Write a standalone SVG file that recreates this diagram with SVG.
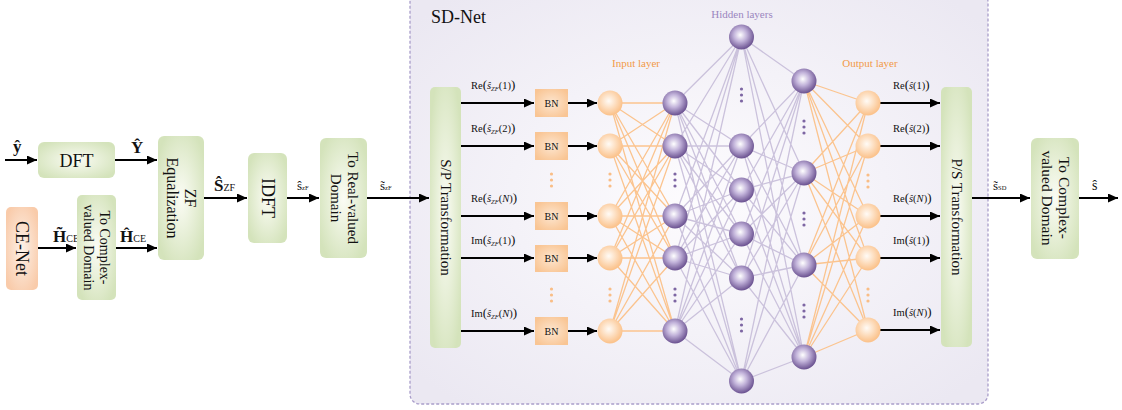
<svg xmlns="http://www.w3.org/2000/svg" width="1122" height="410" viewBox="0 0 1122 410">
<defs>
<radialGradient id="gGreen" cx="50%" cy="50%" r="60%"><stop offset="0" stop-color="#fbfcf5"/><stop offset="1" stop-color="#d4e3bb"/></radialGradient>
<radialGradient id="gPeach" cx="50%" cy="50%" r="60%"><stop offset="0" stop-color="#fdf1e8"/><stop offset="1" stop-color="#f9cbaa"/></radialGradient>
<radialGradient id="gBN" cx="50%" cy="50%" r="60%"><stop offset="0" stop-color="#fde6d0"/><stop offset="1" stop-color="#f9c594"/></radialGradient>
<radialGradient id="gOr" cx="45%" cy="42%" r="55%"><stop offset="0" stop-color="#fffbf6"/><stop offset="1" stop-color="#fbc38d"/></radialGradient>
<radialGradient id="gPu" cx="45%" cy="42%" r="58%"><stop offset="0" stop-color="#ffffff"/><stop offset="0.45" stop-color="#c2b3da"/><stop offset="1" stop-color="#6a5190"/></radialGradient>
<radialGradient id="gBg" cx="50%" cy="50%" r="65%"><stop offset="0" stop-color="#fdfcfe"/><stop offset="1" stop-color="#ebe8f2"/></radialGradient>
<marker id="ah" markerWidth="10" markerHeight="9" refX="10" refY="4.5" orient="auto" markerUnits="userSpaceOnUse"><path d="M0,0 L10,4.5 L0,9 z" fill="#000"/></marker>
</defs>
<style>
text{font-family:"Liberation Serif","Times New Roman",serif;fill:#111}
.box{fill:url(#gGreen);stroke:none}
.arr{stroke:#000;stroke-width:2;fill:none;marker-end:url(#ah)}
.big{font-size:18px}
.mid{font-size:15px}
.bold{font-weight:bold;font-size:17px}
.ml{font-size:10.5px}
.bp{font-size:13px}
.it{font-style:italic}
.sub{font-size:6.5px;font-style:italic}
.orl{stroke:#fbc48f;stroke-width:1.3;fill:none}
.pul{stroke:#cbc2dc;stroke-width:1.3;fill:none}
.on{fill:url(#gOr)}
.pn{fill:url(#gPu)}
.od{fill:#f9bd86}
.pd{fill:#7d66a3}
.bn{fill:url(#gBN)}
</style>
<rect width="1122" height="410" fill="#fff"/>

<g id="sdnet-frame">
<rect x="410" y="-8" width="578" height="412" rx="10" fill="url(#gBg)" stroke="#a99dca" stroke-width="1.3" stroke-dasharray="3,2"/>
<text x="431" y="23" font-size="18">SD-Net</text>
<text x="612" y="67" font-size="11" style="fill:#f29a48">Input layer</text>
<text x="742" y="18" font-size="11" text-anchor="middle" style="fill:#9b86bf">Hidden layers</text>
<text x="870" y="67" font-size="11" text-anchor="middle" style="fill:#f29a48">Output layer</text>
</g>

<g id="connectors">
<path class="orl" d="M610 103L675 103M610 103L675 146M610 103L675 216M610 103L675 258M610 103L675 331M610 146L675 103M610 146L675 146M610 146L675 216M610 146L675 258M610 146L675 331M610 216L675 103M610 216L675 146M610 216L675 216M610 216L675 258M610 216L675 331M610 258L675 103M610 258L675 146M610 258L675 216M610 258L675 258M610 258L675 331M610 331L675 103M610 331L675 146M610 331L675 216M610 331L675 258M610 331L675 331"/>
<path class="pul" d="M675 103L741.5 37M675 103L741.5 146M675 103L741.5 190M675 103L741.5 234M675 103L741.5 278M675 103L741.5 381M675 146L741.5 37M675 146L741.5 146M675 146L741.5 190M675 146L741.5 234M675 146L741.5 278M675 146L741.5 381M675 216L741.5 37M675 216L741.5 146M675 216L741.5 190M675 216L741.5 234M675 216L741.5 278M675 216L741.5 381M675 258L741.5 37M675 258L741.5 146M675 258L741.5 190M675 258L741.5 234M675 258L741.5 278M675 258L741.5 381M675 331L741.5 37M675 331L741.5 146M675 331L741.5 190M675 331L741.5 234M675 331L741.5 278M675 331L741.5 381"/>
<path class="pul" d="M741.5 37L804 81M741.5 37L804 173M741.5 37L804 265M741.5 37L804 357M741.5 146L804 81M741.5 146L804 173M741.5 146L804 265M741.5 146L804 357M741.5 190L804 81M741.5 190L804 173M741.5 190L804 265M741.5 190L804 357M741.5 234L804 81M741.5 234L804 173M741.5 234L804 265M741.5 234L804 357M741.5 278L804 81M741.5 278L804 173M741.5 278L804 265M741.5 278L804 357M741.5 381L804 81M741.5 381L804 173M741.5 381L804 265M741.5 381L804 357"/>
<path class="orl" d="M804 81L868 103M804 81L868 146M804 81L868 216M804 81L868 258M804 81L868 330M804 173L868 103M804 173L868 146M804 173L868 216M804 173L868 258M804 173L868 330M804 265L868 103M804 265L868 146M804 265L868 216M804 265L868 258M804 265L868 330M804 357L868 103M804 357L868 146M804 357L868 216M804 357L868 258M804 357L868 330"/>

<path class="arr" d="M5 160H37"/>
<path class="arr" d="M115 160H157"/>
<path class="arr" d="M38 248H76"/>
<path class="arr" d="M116 248H157"/>
<path class="arr" d="M204 198H247"/>
<path class="arr" d="M287 198H319"/>
<path class="arr" d="M367 198H429"/>

<path class="arr" d="M461 103H534"/>
<path class="arr" d="M461 146H534"/>
<path class="arr" d="M461 216H534"/>
<path class="arr" d="M461 258H534"/>
<path class="arr" d="M461 331H534"/>
<path class="arr" d="M568 103H597"/>
<path class="arr" d="M568 146H597"/>
<path class="arr" d="M568 216H597"/>
<path class="arr" d="M568 258H597"/>
<path class="arr" d="M568 331H597"/>

<path class="arr" d="M880 103H940"/>
<path class="arr" d="M880 146H940"/>
<path class="arr" d="M880 216H940"/>
<path class="arr" d="M880 258H940"/>
<path class="arr" d="M880 330H940"/>

<path class="arr" d="M972 198H1030"/>
<path class="arr" d="M1079 198H1118"/>

<text x="13" y="152" class="bold" font-size="18">ŷ</text>
<text x="131" y="153" class="bold">Ŷ</text>
<text x="53" y="242" class="bold">H̃<tspan font-size="10" font-weight="normal">CE</tspan></text>
<text x="120" y="242" class="bold">Ĥ<tspan font-size="10" font-weight="normal">CE</tspan></text>
<text x="214" y="191" class="bold">Ŝ<tspan font-size="10" font-weight="normal">ZF</tspan></text>
<text x="297" y="190" font-size="13">ŝ<tspan font-size="6.5">zF</tspan></text>
<text x="380" y="190" font-size="13">s̃<tspan font-size="6.5">zF</tspan></text>
<text x="993" y="190" font-size="13">s̃<tspan font-size="6.5">SD</tspan></text>
<text x="1092" y="190" font-size="14">ŝ</text>

<text x="471" y="89" class="ml">Re<tspan class="bp">(</tspan><tspan class="it">ŝ</tspan><tspan class="sub" dy="2">ZF</tspan><tspan dy="-2">(1)</tspan><tspan class="bp">)</tspan></text>
<text x="471" y="132" class="ml">Re<tspan class="bp">(</tspan><tspan class="it">ŝ</tspan><tspan class="sub" dy="2">ZF</tspan><tspan dy="-2">(2)</tspan><tspan class="bp">)</tspan></text>
<text x="471" y="202" class="ml">Re<tspan class="bp">(</tspan><tspan class="it">ŝ</tspan><tspan class="sub" dy="2">ZF</tspan><tspan dy="-2">(</tspan><tspan class="it">N</tspan>)<tspan class="bp">)</tspan></text>
<text x="471" y="244" class="ml">Im<tspan class="bp">(</tspan><tspan class="it">ŝ</tspan><tspan class="sub" dy="2">ZF</tspan><tspan dy="-2">(1)</tspan><tspan class="bp">)</tspan></text>
<text x="471" y="317" class="ml">Im<tspan class="bp">(</tspan><tspan class="it">ŝ</tspan><tspan class="sub" dy="2">ZF</tspan><tspan dy="-2">(</tspan><tspan class="it">N</tspan>)<tspan class="bp">)</tspan></text>

<text x="893" y="89" class="ml">Re<tspan class="bp">(</tspan><tspan class="it">ŝ</tspan>(1)<tspan class="bp">)</tspan></text>
<text x="893" y="132" class="ml">Re<tspan class="bp">(</tspan><tspan class="it">ŝ</tspan>(2)<tspan class="bp">)</tspan></text>
<text x="893" y="202" class="ml">Re<tspan class="bp">(</tspan><tspan class="it">ŝ</tspan>(<tspan class="it">N</tspan>)<tspan class="bp">)</tspan></text>
<text x="893" y="244" class="ml">Im<tspan class="bp">(</tspan><tspan class="it">ŝ</tspan>(1)<tspan class="bp">)</tspan></text>
<text x="893" y="316" class="ml">Im<tspan class="bp">(</tspan><tspan class="it">ŝ</tspan>(<tspan class="it">N</tspan>)<tspan class="bp">)</tspan></text>
</g>

<g id="dft"><rect class="box" x="38" y="142" width="77" height="36" rx="6"/><text x="76.5" y="166.5" class="big" text-anchor="middle">DFT</text></g>
<g id="ce-net"><rect x="6" y="207" width="32" height="83" rx="5" fill="url(#gPeach)"/><text transform="rotate(90 22 248.5)" x="22" y="254.5" class="big" text-anchor="middle">CE-Net</text></g>
<g id="to-complex-1"><rect class="box" x="77" y="195" width="39" height="105" rx="5"/><text transform="rotate(90 96.5 247.5)" text-anchor="middle" font-size="14"><tspan x="96.5" y="244">To Complex-</tspan><tspan x="96.5" y="260">valued Domain</tspan></text></g>
<g id="zf-eq"><rect class="box" x="158" y="136" width="46" height="124" rx="6"/><text transform="rotate(90 181 198)" text-anchor="middle" font-size="16"><tspan x="181" y="194.5">ZF</tspan><tspan x="181" y="212.5">Equalization</tspan></text></g>
<g id="idft"><rect class="box" x="248" y="153" width="39" height="90" rx="6"/><text transform="rotate(90 267.5 198)" x="267.5" y="204" class="big" text-anchor="middle">IDFT</text></g>
<g id="to-real"><rect class="box" x="320" y="138" width="47" height="120" rx="6"/><text transform="rotate(90 343.5 198)" text-anchor="middle" class="mid"><tspan x="343.5" y="194">To Real-valued</tspan><tspan x="343.5" y="211">Domain</tspan></text></g>
<g id="sp"><rect class="box" x="430" y="87" width="31" height="261" rx="5"/><text transform="rotate(90 445.5 217.5)" x="445.5" y="222.5" class="mid" text-anchor="middle">S/P Transformation</text></g>
<g id="ps"><rect class="box" x="941" y="87" width="31" height="260" rx="5"/><text transform="rotate(90 956.5 217)" x="956.5" y="222" class="mid" text-anchor="middle">P/S Transformation</text></g>
<g id="to-complex-2"><rect class="box" x="1031" y="138" width="48" height="121" rx="6"/><text transform="rotate(90 1055 198)" text-anchor="middle" font-size="15.5"><tspan x="1055" y="194">To Complex-</tspan><tspan x="1055" y="211">valued Domain</tspan></text></g>

<g id="bn-layer">
<rect class="bn" x="535" y="89" width="33" height="28"/><text x="551.5" y="107" font-size="10" text-anchor="middle">BN</text>
<rect class="bn" x="535" y="132" width="33" height="28"/><text x="551.5" y="150" font-size="10" text-anchor="middle">BN</text>
<rect class="bn" x="535" y="202" width="33" height="28"/><text x="551.5" y="220" font-size="10" text-anchor="middle">BN</text>
<rect class="bn" x="535" y="245" width="33" height="27"/><text x="551.5" y="262" font-size="10" text-anchor="middle">BN</text>
<rect class="bn" x="535" y="317" width="33" height="28"/><text x="551.5" y="335" font-size="10" text-anchor="middle">BN</text>
<circle class="od" cx="551.5" cy="174" r="1.6"/><circle class="od" cx="551.5" cy="180" r="1.6"/><circle class="od" cx="551.5" cy="186" r="1.6"/>
<circle class="od" cx="551.5" cy="289" r="1.6"/><circle class="od" cx="551.5" cy="295" r="1.6"/><circle class="od" cx="551.5" cy="301" r="1.6"/>
</g>

<g id="input-layer">
<circle id="in1" class="on" cx="610" cy="103" r="12.5"/>
<circle id="in2" class="on" cx="610" cy="146" r="12.5"/>
<circle id="in3" class="on" cx="610" cy="216" r="12.5"/>
<circle id="in4" class="on" cx="610" cy="258" r="12.5"/>
<circle id="in5" class="on" cx="610" cy="331" r="12.5"/>
<circle class="od" cx="610" cy="174" r="1.6"/><circle class="od" cx="610" cy="180" r="1.6"/><circle class="od" cx="610" cy="186" r="1.6"/>
<circle class="od" cx="610" cy="289" r="1.6"/><circle class="od" cx="610" cy="295" r="1.6"/><circle class="od" cx="610" cy="301" r="1.6"/>
</g>

<g id="hidden-1">
<circle id="h1a" class="pn" cx="675" cy="103" r="12.5"/>
<circle id="h1b" class="pn" cx="675" cy="146" r="12.5"/>
<circle id="h1c" class="pn" cx="675" cy="216" r="12.5"/>
<circle id="h1d" class="pn" cx="675" cy="258" r="12.5"/>
<circle id="h1e" class="pn" cx="675" cy="331" r="12.5"/>
<circle class="pd" cx="675" cy="174" r="1.6"/><circle class="pd" cx="675" cy="180" r="1.6"/><circle class="pd" cx="675" cy="186" r="1.6"/>
<circle class="pd" cx="675" cy="289" r="1.6"/><circle class="pd" cx="675" cy="295" r="1.6"/><circle class="pd" cx="675" cy="301" r="1.6"/>
</g>

<g id="hidden-2">
<circle id="h2a" class="pn" cx="741.5" cy="37" r="12.5"/>
<circle id="h2b" class="pn" cx="741.5" cy="146" r="12.5"/>
<circle id="h2c" class="pn" cx="741.5" cy="190" r="12.5"/>
<circle id="h2d" class="pn" cx="741.5" cy="234" r="12.5"/>
<circle id="h2e" class="pn" cx="741.5" cy="278" r="12.5"/>
<circle id="h2f" class="pn" cx="741.5" cy="381" r="12.5"/>
<circle class="pd" cx="741.5" cy="89" r="1.6"/><circle class="pd" cx="741.5" cy="95" r="1.6"/><circle class="pd" cx="741.5" cy="101" r="1.6"/>
<circle class="pd" cx="741.5" cy="319" r="1.6"/><circle class="pd" cx="741.5" cy="325" r="1.6"/><circle class="pd" cx="741.5" cy="331" r="1.6"/>
</g>

<g id="hidden-3">
<circle id="h3a" class="pn" cx="804" cy="81" r="12.5"/>
<circle id="h3b" class="pn" cx="804" cy="173" r="12.5"/>
<circle id="h3c" class="pn" cx="804" cy="265" r="12.5"/>
<circle id="h3d" class="pn" cx="804" cy="357" r="12.5"/>
<circle class="pd" cx="804" cy="121" r="1.6"/><circle class="pd" cx="804" cy="127" r="1.6"/><circle class="pd" cx="804" cy="133" r="1.6"/>
<circle class="pd" cx="804" cy="213" r="1.6"/><circle class="pd" cx="804" cy="219" r="1.6"/><circle class="pd" cx="804" cy="225" r="1.6"/>
<circle class="pd" cx="804" cy="305" r="1.6"/><circle class="pd" cx="804" cy="311" r="1.6"/><circle class="pd" cx="804" cy="317" r="1.6"/>
</g>

<g id="output-layer">
<circle id="out1" class="on" cx="868" cy="103" r="12.5"/>
<circle id="out2" class="on" cx="868" cy="146" r="12.5"/>
<circle id="out3" class="on" cx="868" cy="216" r="12.5"/>
<circle id="out4" class="on" cx="868" cy="258" r="12.5"/>
<circle id="out5" class="on" cx="868" cy="330" r="12.5"/>
<circle class="od" cx="868" cy="175" r="1.6"/><circle class="od" cx="868" cy="181" r="1.6"/><circle class="od" cx="868" cy="187" r="1.6"/>
<circle class="od" cx="868" cy="289" r="1.6"/><circle class="od" cx="868" cy="295" r="1.6"/><circle class="od" cx="868" cy="301" r="1.6"/>
</g>
</svg>
